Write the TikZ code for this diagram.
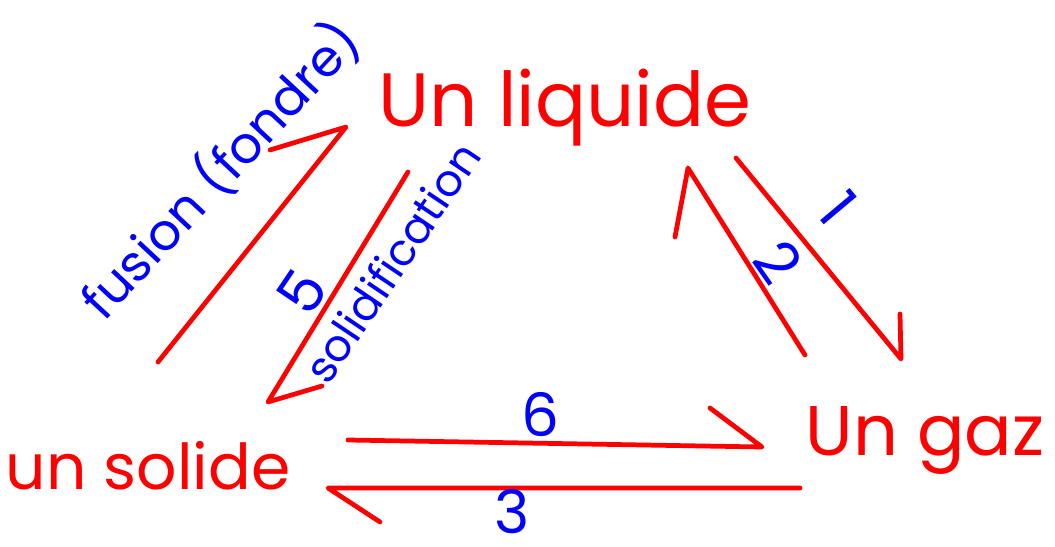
\documentclass[tikz,border=0pt]{standalone}
\usepackage{fontspec}
\setmainfont{Poppins}
\begin{document}
\begin{tikzpicture}[x=0.02cm,y=-0.02cm,
  etat/.style={text=red,inner sep=0pt},
  fleche/.style={draw=red,line width=2.7pt,line cap=round,line join=round},
  lbl/.style={text=blue,inner sep=0pt,font=\fontsize{29}{31}\selectfont},
  chiffre/.style={text=blue,inner sep=0pt,font=\fontsize{34}{36}\selectfont}]
\useasboundingbox (0,0) rectangle (1055,547);
% les trois etats
\node[etat, font=\fontsize{43}{45}\selectfont] (liq) at (565,108) {Un liquide};
\node[etat, font=\fontsize{36}{38}\selectfont] (sol) at (148,466) {un solide};
\node[etat, font=\fontsize{40}{42}\selectfont] (gaz) at (925,440) {Un gaz};
% fusion
\coordinate (fusA) at (158,362);
\coordinate (fusB) at (346,127);
\coordinate (fusC) at (270,150);
\draw[fleche] (fusA) -- (fusB) -- (fusC);
\node[lbl, rotate=47] (fus) at (220,170) {fusion (fondre)};
% 5 solidification
\coordinate (solA) at (408,172);
\coordinate (solB) at (268,402);
\coordinate (solC) at (322,386);
\draw[fleche] (solA) -- (solB) -- (solC);
\node[lbl, rotate=56, font=\fontsize{25}{27}\selectfont] (soli) at (392,262) {solidification};
\node[chiffre, rotate=56] (n5) at (302,292) {5};
% 1 liquide -> gaz
\coordinate (unA) at (736,158);
\coordinate (unB) at (901,359);
\coordinate (unC) at (900,314);
\draw[fleche] (unA) -- (unB) -- (unC);
\node[chiffre, rotate=-50] (n1) at (838,208) {1};
% 2 gaz -> liquide
\coordinate (deuxA) at (805,355);
\coordinate (deuxB) at (688,168);
\coordinate (deuxC) at (675,237);
\draw[fleche] (deuxA) -- (deuxB) -- (deuxC);
\node[chiffre, rotate=-55] (n2) at (778,262) {2};
% 6 solide -> gaz
\coordinate (sixA) at (348,440);
\coordinate (sixB) at (762,447);
\coordinate (sixC) at (710,408);
\draw[fleche] (sixA) -- (sixB) -- (sixC);
\node[chiffre] (n6) at (540,415) {6};
% 3 gaz -> solide
\coordinate (troisA) at (800,488);
\coordinate (troisB) at (328,488);
\coordinate (troisC) at (380,522);
\draw[fleche] (troisA) -- (troisB) -- (troisC);
\node[chiffre] (n3) at (512,512) {3};
\end{tikzpicture}
\end{document}
